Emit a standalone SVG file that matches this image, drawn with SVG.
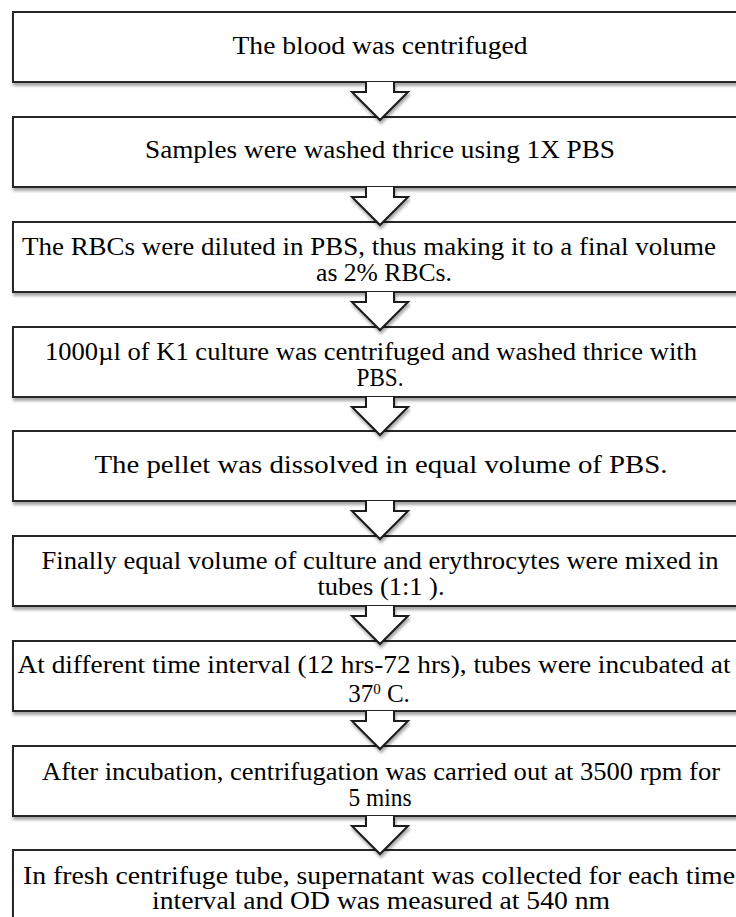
<svg xmlns="http://www.w3.org/2000/svg" width="736" height="917" viewBox="0 0 736 917">
<defs>
<filter id="sh" x="-5%" y="-20%" width="110%" height="150%">
<feDropShadow dx="1" dy="3" stdDeviation="1.5" flood-color="#000" flood-opacity="0.35"/>
</filter>
</defs>
<style>
.box{fill:#fff;stroke:#262626;stroke-width:2;filter:url(#sh)}
.arr{fill:#fff;stroke:#1a1a1a;stroke-width:2;stroke-linejoin:miter;filter:url(#sh)}
text{font-family:"Liberation Serif","Times New Roman",serif;font-size:25px;fill:#000;text-anchor:middle}
</style>
<rect width="736" height="917" fill="#fff"/>
<g id="n1"><rect class="box" x="13" y="12" width="740" height="70"/>
<text x="380" y="54" textLength="295" lengthAdjust="spacingAndGlyphs">The  blood  was centrifuged</text></g>
<g id="n2"><rect class="box" x="13" y="117" width="740" height="70"/>
<text x="380" y="158" textLength="470" lengthAdjust="spacingAndGlyphs">Samples were washed thrice using 1X PBS</text></g>
<g id="n3"><rect class="box" x="13" y="222" width="740" height="70"/>
<text x="369" y="255" textLength="694" lengthAdjust="spacingAndGlyphs">The RBCs were diluted in PBS, thus making it to a final volume</text>
<text x="384" y="281" textLength="136" lengthAdjust="spacingAndGlyphs">as 2% RBCs.</text></g>
<g id="n4"><rect class="box" x="13" y="327" width="740" height="70"/>
<text x="371" y="360" textLength="652" lengthAdjust="spacingAndGlyphs">1000µl of K1 culture was centrifuged and washed thrice with</text>
<text x="380" y="386" textLength="47" lengthAdjust="spacingAndGlyphs">PBS.</text></g>
<g id="n5"><rect class="box" x="13" y="431" width="740" height="70"/>
<text x="381" y="473" textLength="573" lengthAdjust="spacingAndGlyphs">The pellet was dissolved in equal volume of PBS.</text></g>
<g id="n6"><rect class="box" x="13" y="536" width="740" height="70"/>
<text x="380" y="569" textLength="677" lengthAdjust="spacingAndGlyphs">Finally equal volume of culture and erythrocytes were mixed in</text>
<text x="381" y="595" textLength="127" lengthAdjust="spacingAndGlyphs">tubes (1:1 ).</text></g>
<g id="n7"><rect class="box" x="13" y="641" width="740" height="70"/>
<text x="374" y="673" textLength="713" lengthAdjust="spacingAndGlyphs">At different time interval (12 hrs-72 hrs), tubes were incubated at</text>
<text x="379" y="702">37<tspan font-size="15" dy="-8">0</tspan><tspan dy="8"> C.</tspan></text></g>
<g id="n8"><rect class="box" x="13" y="746" width="740" height="70"/>
<text x="381" y="780" textLength="678" lengthAdjust="spacingAndGlyphs">After incubation, centrifugation was carried out at 3500 rpm for</text>
<text x="380" y="806" textLength="63" lengthAdjust="spacingAndGlyphs">5 mins</text></g>
<g id="n9"><rect class="box" x="13" y="850" width="740" height="90"/>
<text x="379" y="884" textLength="712" lengthAdjust="spacingAndGlyphs">In fresh centrifuge tube, supernatant was collected for each time</text>
<text x="381" y="909" textLength="458" lengthAdjust="spacingAndGlyphs">interval and OD was measured at 540 nm</text></g>
<g id="connectors">
<path class="arr" d="M366,82 V92 H352 L380,120 L408,92 H394 V82"/>
<path class="arr" d="M366,187 V197 H352 L380,225 L408,197 H394 V187"/>
<path class="arr" d="M366,292 V302 H352 L380,330 L408,302 H394 V292"/>
<path class="arr" d="M366,397 V407 H352 L380,435 L408,407 H394 V397"/>
<path class="arr" d="M366,501 V511 H352 L380,539 L408,511 H394 V501"/>
<path class="arr" d="M366,606 V616 H352 L380,644 L408,616 H394 V606"/>
<path class="arr" d="M366,711 V721 H352 L380,749 L408,721 H394 V711"/>
<path class="arr" d="M366,816 V826 H352 L380,854 L408,826 H394 V816"/>
</g>
</svg>
